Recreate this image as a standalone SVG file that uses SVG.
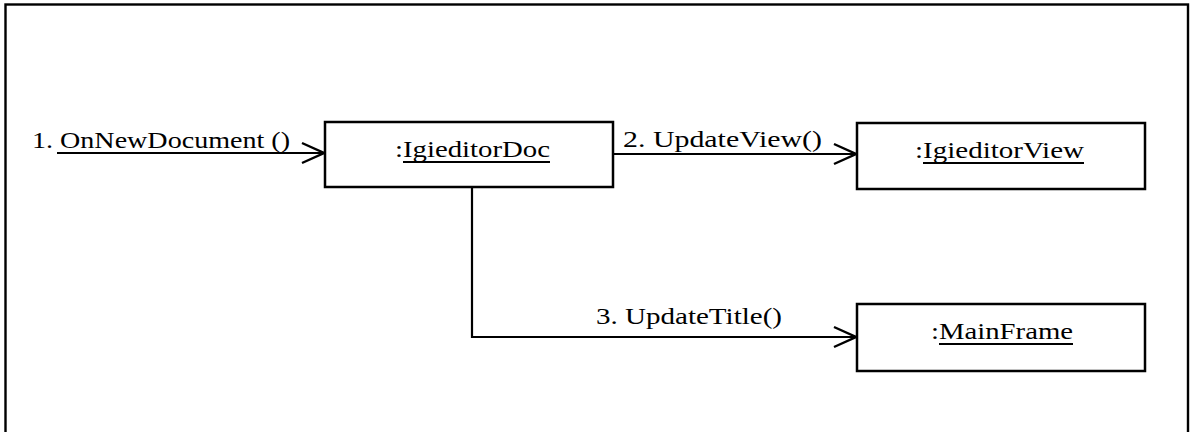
<svg xmlns="http://www.w3.org/2000/svg" width="1191" height="432" viewBox="0 0 1191 432">
<style>
.box{fill:#fff;stroke:#000;stroke-width:2.5}
.conn{fill:none;stroke:#000;stroke-width:2.2}
.lbl{font-family:"Liberation Serif","Times New Roman",serif;font-size:23px;fill:#000}
.ul{stroke:#000;stroke-width:1.8}
</style>
<defs>
<marker id="open" viewBox="-24 -12 26 24" refX="0" refY="0" markerWidth="26" markerHeight="24" markerUnits="userSpaceOnUse" orient="auto">
<path d="M-22,-10 L0,0 L-22,10" fill="none" stroke="#000" stroke-width="2.4"/>
</marker>
</defs>
<rect x="0" y="0" width="1191" height="432" fill="#fff"/>
<rect x="5.5" y="4.5" width="1182.5" height="440" fill="none" stroke="#000" stroke-width="2.4"/>
<g id="connectors">
<line class="conn" x1="57" y1="153" x2="324" y2="153" marker-end="url(#open)"/>
<text class="lbl" x="32" y="148" textLength="258" lengthAdjust="spacingAndGlyphs">1. OnNewDocument ()</text>
<line class="conn" x1="613" y1="154" x2="856" y2="154" marker-end="url(#open)"/>
<text class="lbl" x="623" y="147" textLength="199" lengthAdjust="spacingAndGlyphs">2. UpdateView()</text>
<path class="conn" d="M472,187 V337 H856" marker-end="url(#open)"/>
<text class="lbl" x="596" y="324" textLength="186" lengthAdjust="spacingAndGlyphs">3. UpdateTitle()</text>
</g>
<g id="igieditorDoc">
<rect class="box" x="325" y="122" width="288" height="65"/>
<text class="lbl" x="395" y="157" textLength="155" lengthAdjust="spacingAndGlyphs">:IgieditorDoc</text>
<line class="ul" x1="403" y1="162" x2="550" y2="162"/>
</g>
<g id="igieditorView">
<rect class="box" x="857" y="123" width="288" height="66"/>
<text class="lbl" x="915" y="158" textLength="169" lengthAdjust="spacingAndGlyphs">:IgieditorView</text>
<line class="ul" x1="923" y1="163" x2="1084" y2="163"/>
</g>
<g id="mainFrame">
<rect class="box" x="857" y="304" width="288" height="67"/>
<text class="lbl" x="931" y="339" textLength="142" lengthAdjust="spacingAndGlyphs">:MainFrame</text>
<line class="ul" x1="939" y1="344" x2="1073" y2="344"/>
</g>
</svg>
